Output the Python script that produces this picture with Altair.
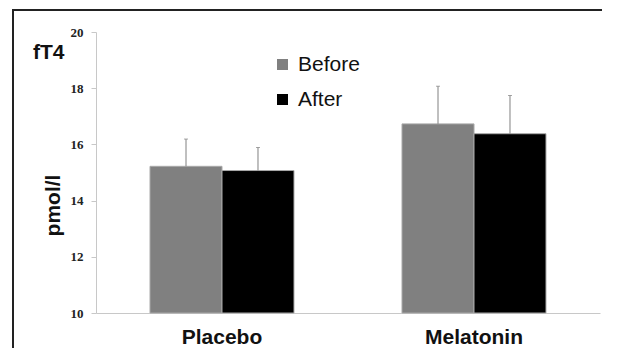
import altair as alt
import pandas as pd

groups = ["Placebo", "Melatonin"]
phases = ["Before", "After"]
before_means = [15.22, 16.73]
before_upper = [16.19, 18.07]
after_means = [15.07, 16.38]
after_upper = [15.89, 17.74]
y_ticks = [10, 12, 14, 16, 18, 20]
colors = ["#808080", "#000000"]

rows = []
for i, g in enumerate(groups):
    rows.append({"group": g, "phase": "Before", "mean": before_means[i], "upper": before_upper[i]})
    rows.append({"group": g, "phase": "After", "mean": after_means[i], "upper": after_upper[i]})
df = pd.DataFrame(rows)

W, H = 504, 281
PAD = {"left": 88, "top": 24, "right": 2, "bottom": 35}

x_enc = alt.X("group:N", sort=groups,
              scale=alt.Scale(paddingInner=0.4286, paddingOuter=0.2143),
              axis=alt.Axis(title=None, labelAngle=0, ticks=False, domainColor="#c8c8c8",
                            labelFont="Liberation Sans", labelFontWeight="bold",
                            labelFontSize=21, labelColor="#111", labelPadding=13))
xoff = alt.XOffset("phase:N", sort=phases, scale=alt.Scale(domain=phases, paddingInner=0, paddingOuter=0))
y_scale = alt.Scale(domain=[10, 20], nice=False, zero=False)

bars = alt.Chart(df).mark_bar(stroke="#a8a8a8", strokeWidth=1).encode(
    x=x_enc,
    xOffset=xoff,
    y=alt.Y("mean:Q", scale=y_scale,
            axis=alt.Axis(values=y_ticks, grid=False, title="pmol/l",
                          titleFont="Liberation Sans", titleFontWeight="bold", titleFontSize=21,
                          titleColor="#111", titleAngle=-90, titleX=-43, titleY=173,
                          titleAlign="center", titleBaseline="middle",
                          labelFont="Liberation Serif", labelFontWeight="bold", labelFontSize=13,
                          labelColor="#222", tickColor="#c8c8c8", tickSize=5, labelPadding=8,
                          domainColor="#c8c8c8")),
    y2=alt.Y2(datum=10),
    color=alt.Color("phase:N", sort=phases, scale=alt.Scale(domain=phases, range=colors),
                    legend=alt.Legend(title=None, orient="none", legendX=176, legendY=22,
                                      symbolType="square", symbolSize=121, symbolStrokeWidth=0,
                                      labelFont="Liberation Sans", labelFontSize=21,
                                      labelColor="#111", rowPadding=13, labelOffset=5)),
)

err = alt.Chart(df).mark_rule(color="#808080", strokeWidth=1).encode(
    x=alt.X("group:N", sort=groups), xOffset=xoff,
    y=alt.Y("mean:Q", scale=y_scale), y2="upper:Q")

caps = alt.Chart(df).mark_tick(color="#808080", thickness=1, size=4, orient="horizontal").encode(
    x=alt.X("group:N", sort=groups), xOffset=xoff,
    y=alt.Y("upper:Q", scale=y_scale))

label = alt.Chart(pd.DataFrame({"t": ["fT4"]})).mark_text(
    font="Liberation Sans", fontWeight="bold", fontSize=21, color="#111",
    align="left", baseline="middle").encode(
    text="t:N", x=alt.value(-63), y=alt.value(21))

one = pd.DataFrame({"t": [0]})
frame_top = alt.Chart(one).mark_rule(color="#222", strokeWidth=2).encode(
    x=alt.value(-84), x2=alt.value(520), y=alt.value(-22))
frame_left = alt.Chart(one).mark_rule(color="#222", strokeWidth=2).encode(
    x=alt.value(-83), y=alt.value(-23), y2=alt.value(340))

chart = alt.layer(frame_top, frame_left, bars, err, caps, label).properties(
    width=W, height=H, padding=PAD, autosize=alt.AutoSizeParams(type="none")
).configure_view(stroke=None).configure_axis(labelFontWeight="bold")

chart.save("out.html", embed_options={"renderer": "svg", "actions": False})
